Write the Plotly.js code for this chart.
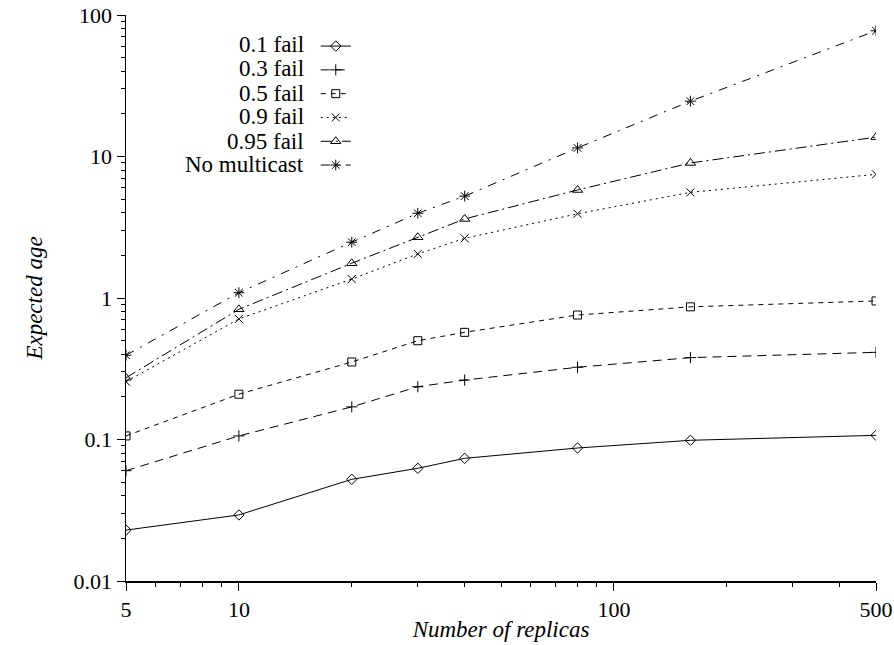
<!DOCTYPE html>
<html>
<head>
<meta charset="utf-8">
<script src="https://cdn.plot.ly/plotly-3.0.1.min.js"></script>
<style>html,body{margin:0;padding:0;background:#fff;}#chart{width:894px;height:645px;}</style>
</head>
<body>
<div id="chart"></div>
<script>
// Data
const replicas = [5, 10, 20, 30, 40, 80, 160, 500];
const seriesNames = ["0.1 fail", "0.3 fail", "0.5 fail", "0.9 fail", "0.95 fail", "No multicast"];
const fail01 = [0.0229, 0.0293, 0.0523, 0.0626, 0.0736, 0.0871, 0.0987, 0.107];
const fail03 = [0.0602, 0.106, 0.170, 0.236, 0.263, 0.324, 0.379, 0.413];
const fail05 = [0.106, 0.209, 0.353, 0.499, 0.572, 0.758, 0.866, 0.953];
const fail09 = [0.256, 0.711, 1.36, 2.05, 2.64, 3.94, 5.58, 7.48];
const fail095 = [0.273, 0.832, 1.76, 2.69, 3.62, 5.80, 9.0, 13.7];
const noMulticast = [0.394, 1.09, 2.48, 3.97, 5.25, 11.5, 24.6, 77.4];
const xTickVals = [5, 10, 100, 500];
const xTickText = ["5", "10", "100", "500"];
const yTickVals = [0.01, 0.1, 1, 10, 100];
const yTickText = ["0.01", "0.1", "1", "10", "100"];

const seriesValues = [fail01, fail03, fail05, fail09, fail095, noMulticast];
const symbols = ["diamond-open", "cross-thin-open", "square-open", "x-thin-open", "triangle-up-open", "asterisk-open"];
const dashes = ["solid", "9px,6px", "5px,5px", "2px,4px", "11px,4px,2px,4px", "9px,7px,2px,7px"];
const sizes = [8, 8, 8, 8, 9, 9];

const traces = seriesValues.map((vals, i) => ({
  type: "scatter",
  mode: "lines+markers",
  name: seriesNames[i],
  x: replicas,
  y: vals,
  line: {color: "#000", width: 1, dash: dashes[i]},
  marker: {symbol: symbols[i], size: sizes[i], color: "#000", line: {color: "#000", width: 1}}
}));

// minor ticks
const xMinor = [];
[1, 10, 100].forEach(d => { for (let k = 1; k <= 9; k++) { const v = k * d; if (v > 5 && v < 500 && xTickVals.indexOf(v) < 0) xMinor.push(v); } });
const yMinor = [];
[0.01, 0.1, 1, 10].forEach(d => { for (let k = 2; k <= 9; k++) yMinor.push(k * d); });

const font = "Liberation Serif";
const rowYs = [0.947, 0.905, 0.862, 0.820, 0.777, 0.735];
const annotations = seriesNames.map((n, i) => ({
  text: n, xref: "paper", yref: "paper", x: 0.24, y: rowYs[i],
  xanchor: "right", yanchor: "middle", showarrow: false,
  font: {family: font, size: 23, color: "#000"}
}));

const layout = {
  width: 894, height: 645,
  margin: {l: 126, r: 18, t: 15, b: 64},
  paper_bgcolor: "#fff", plot_bgcolor: "#fff",
  font: {family: font, size: 22, color: "#000"},
  showlegend: true,
  legend: {x: 0.253, y: 0.975, xanchor: "left", yanchor: "top", bgcolor: "rgba(0,0,0,0)",
           font: {family: font, size: 16, color: "rgba(0,0,0,0)"}, tracegroupgap: 0},
  xaxis: {
    type: "log", range: [Math.log10(5), Math.log10(500)],
    tickmode: "array", tickvals: xTickVals, ticktext: xTickText,
    ticks: "outside", ticklen: 8, tickwidth: 1, tickcolor: "#000",
    minor: {tickmode: "array", tickvals: xMinor, ticks: "outside", ticklen: 4, tickwidth: 1, tickcolor: "#000", showgrid: false},
    showline: true, linecolor: "#000", linewidth: 1.5, showgrid: false, zeroline: false,
    tickfont: {family: font, size: 22, color: "#000"},
    title: {text: "<i>Number of replicas</i>", font: {family: font, size: 23, color: "#000"}, standoff: 0}
  },
  yaxis: {
    type: "log", range: [-2, 2],
    tickmode: "array", tickvals: yTickVals, ticktext: yTickText,
    ticks: "outside", ticklen: 8, tickwidth: 1, tickcolor: "#000",
    minor: {tickmode: "array", tickvals: yMinor, ticks: "outside", ticklen: 4, tickwidth: 1, tickcolor: "#000", showgrid: false},
    showline: true, linecolor: "#000", linewidth: 1.5, showgrid: false, zeroline: false,
    tickfont: {family: font, size: 22, color: "#000"},
    title: {text: "<i>Expected age</i>", font: {family: font, size: 23, color: "#000"}, standoff: 24}
  },
  annotations: annotations
};

Plotly.newPlot("chart", traces, layout, {staticPlot: true, displayModeBar: false});
</script>
</body>
</html>
